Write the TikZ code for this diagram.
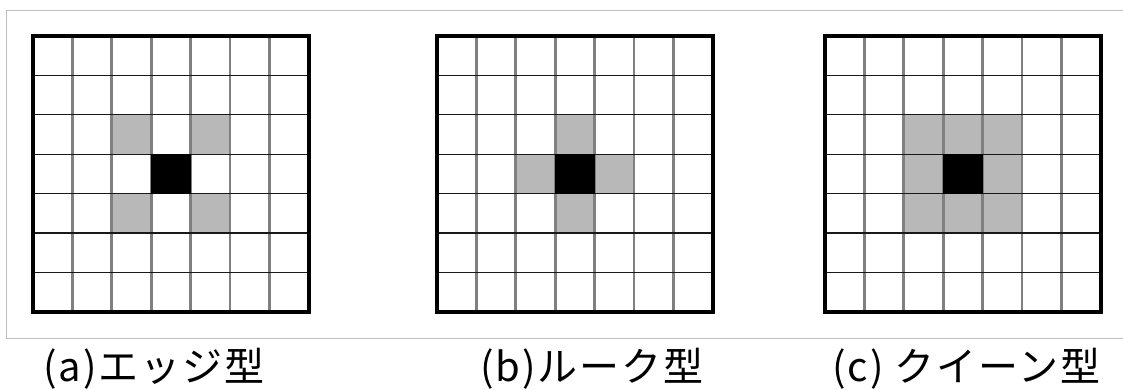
\documentclass[tikz,border=0pt]{standalone}
\usepackage{fontspec}
\newfontfamily\jpfont[LetterSpace=5]{Noto Sans CJK JP}
\tikzset{
  cellgray/.style={fill=black!28},
  vline/.style={draw=black!50, line width=2.8pt},
  hline/.style={draw=black!90, line width=1.3pt},
  outerframe/.style={draw=black, line width=3.6pt},
  lab/.style={font=\jpfont\fontsize{40}{44}\selectfont, inner sep=0pt, anchor=base west},
}
\newcommand\mygrid[2]{%
  \begin{scope}[shift={(#1,36)}]
    \foreach \c/\r in {#2} \fill[cellgray] (\c*39.4,\r*39.4) rectangle ++(39.4,39.4);
    \foreach \i in {1,...,6} \draw[vline] (\i*39.4,0) -- (\i*39.4,275.8);
    \foreach \i in {1,...,6} \draw[hline] (0,\i*39.4) -- (275.8,\i*39.4);
    \fill[black] (3*39.4,3*39.4) rectangle ++(39.4,39.4);
    \draw[outerframe] (0,0) rectangle (275.8,275.8);
  \end{scope}}
\begin{document}
\begin{tikzpicture}[x=1pt,y=-1pt]
  \useasboundingbox (0,0) rectangle (1123,389);
  \draw[black!25, line width=1pt] (1123,10.5) -- (6.5,10.5) -- (6.5,338) -- (1123,338);
  \mygrid{33}{2/2,4/2,2/4,4/4}
  \mygrid{437}{3/2,2/3,4/3,3/4}
  \mygrid{825}{2/2,3/2,4/2,2/3,4/3,2/4,3/4,4/4}
  \node[lab] (la) at (43,381) {(a)エッジ型};
  \node[lab] (lb) at (480,381) {(b)ルーク型};
  \node[lab] (lc) at (832,381) {(c) クイーン型};
\end{tikzpicture}
\end{document}
